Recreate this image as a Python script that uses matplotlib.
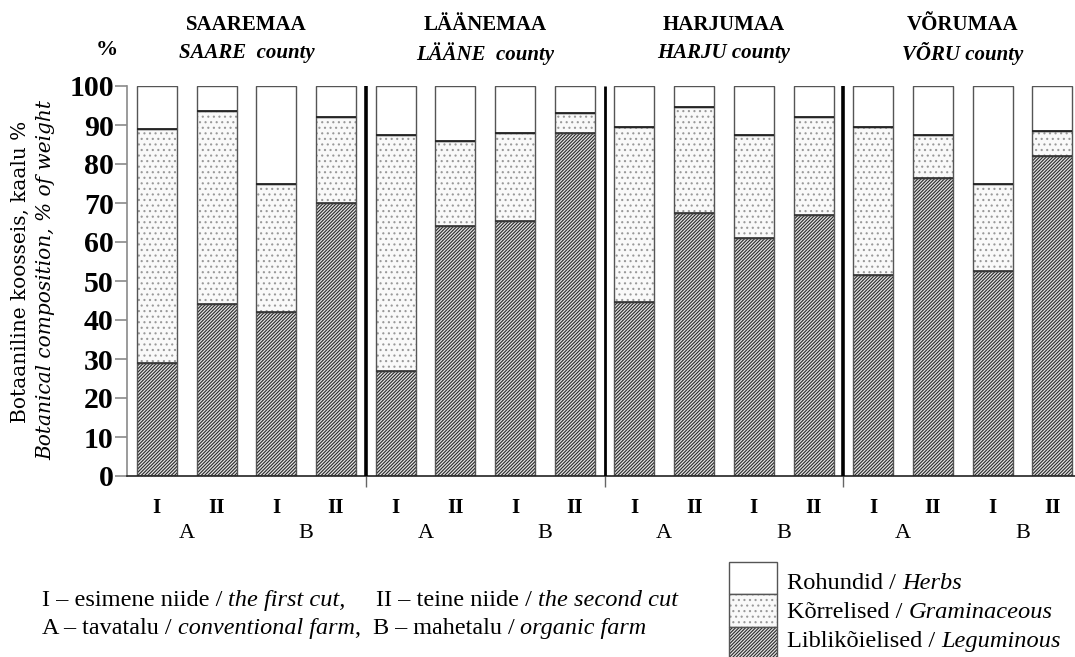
import matplotlib
matplotlib.use('Agg')
import matplotlib.pyplot as plt
import matplotlib.transforms as mtransforms
from matplotlib.patches import Rectangle
import numpy as np

# ---------------- data ----------------
counties = ['SAAREMAA', 'LÄÄNEMAA', 'HARJUMAA', 'VÕRUMAA']
counties_en = ['SAARE  county', 'LÄÄNE  county', 'HARJU county', 'VÕRU county']
cut_labels = ['I', 'II', 'I', 'II'] * 4
farm_labels = ['A', 'B'] * 4
leguminous = [29, 44, 42, 70, 27, 64, 65.5, 88, 44.5, 67.5, 61, 67, 51.5, 76.5, 52.5, 82]
graminaceous = [60, 49.5, 33, 22, 60.5, 22, 22.5, 5, 45, 27, 26.5, 25, 38, 11, 22.5, 6.5]
herbs = [11, 6.5, 25, 8, 12.5, 14, 12, 7, 10.5, 5.5, 12.5, 8, 10.5, 12.5, 25, 11.5]
yticks = [0, 10, 20, 30, 40, 50, 60, 70, 80, 90, 100]
legend_labels = [('Rohundid /', 'Herbs'),
                 ('Kõrrelised /', 'Graminaceous'),
                 ('Liblikõielised /', 'Leguminous')]
note_line1 = [('I – esimene niide /', 'normal', 1), ('the first cut,', 'italic', 5),
              ('II – teine niide /', 'normal', 1), ('the second cut', 'italic', 0)]
note_line2 = [('A – tavatalu /', 'normal', 1), ('conventional farm', 'italic', 0),
              (',', 'normal', 2), ('B – mahetalu /', 'normal', 1), ('organic farm', 'italic', 0)]

plt.rcParams['font.family'] = ['Liberation Serif', 'DejaVu Serif']
plt.rcParams['hatch.linewidth'] = 0.8

W, H = 1075, 657
fig = plt.figure(figsize=(W / 100, H / 100), dpi=100)
ax = fig.add_axes([127 / W, 1 - 476 / H, (W - 127) / W, 390 / H])
renderer = fig.canvas.get_renderer()

x = np.arange(len(leguminous))
leg = np.array(leguminous)
gra = np.array(graminaceous)
her = np.array(herbs)
bw = 0.67

LEG_FACE = '#e2e2e2'
LEG_HATCH = '#2a2a2a'
LEG_PAT = '//////////'
GRA_FACE = '#f9f9f9'
GRA_HATCH = '#999999'
GRA_PAT = '...'
EDGE = '#555555'

# leguminous
ax.bar(x, leg, width=bw, color=LEG_FACE, edgecolor=LEG_HATCH, hatch=LEG_PAT, linewidth=0)
ax.bar(x, leg, width=bw, fill=False, edgecolor=EDGE, linewidth=1.0)
# graminaceous
ax.bar(x, gra, bottom=leg, width=bw, color=GRA_FACE, edgecolor=GRA_HATCH, hatch=GRA_PAT, linewidth=0)
ax.bar(x, gra, bottom=leg, width=bw, fill=False, edgecolor=EDGE, linewidth=1.0)
# herbs
ax.bar(x, her, bottom=leg + gra, width=bw, color='white', edgecolor=EDGE, linewidth=1.0)
ax.hlines(leg, x - bw / 2, x + bw / 2, colors='#333333', linewidth=1.2)
ax.hlines(leg + gra, x - bw / 2, x + bw / 2, colors='#222222', linewidth=1.3)

# group separators
ngroups = len(counties)
seps = [4 * k - 0.5 for k in range(1, ngroups)]
ax.vlines(seps, 0, 100, colors='black', linewidth=[2.6, 2.0, 2.6], zorder=5)

ax.set_xlim(-0.5, 15.38)
ax.set_ylim(0, 100)

for s in ['top', 'right']:
    ax.spines[s].set_visible(False)
ax.spines['left'].set_color('#8a8a8a')
ax.spines['left'].set_linewidth(1.2)
ax.spines['bottom'].set_color('#222222')
ax.spines['bottom'].set_linewidth(1.2)

ax.set_yticks(yticks)
ax.set_yticklabels([str(v) for v in yticks], fontsize=21.5, fontweight='bold')
ax.tick_params(axis='y', length=9, width=1.2, color='#8a8a8a', pad=0.5)

ax.set_xticks(x)
ax.set_xticklabels(cut_labels, fontsize=15, fontweight='bold')
ax.tick_params(axis='x', which='major', length=0, pad=16)
ax.set_xticks(seps, minor=True)
ax.tick_params(axis='x', which='minor', length=8, width=1.0, color='#666666')

trans = mtransforms.blended_transform_factory(ax.transData, ax.transAxes)
for k, lab in enumerate(farm_labels):
    ax.text(2 * k + 0.5, -0.148, lab, transform=trans, ha='center', va='center', fontsize=16)

for k in range(ngroups):
    cx = 4 * k + 1.5
    ax.text(cx, 1.156, counties[k], transform=trans, ha='center', va='center',
            fontsize=15, fontweight='bold')
    ax.text(cx, 1.084, counties_en[k], transform=trans, ha='center', va='center',
            fontsize=15, fontweight='bold', fontstyle='italic')

fig.text(107 / W, 1 - 50 / H, '%', ha='center', va='center', fontsize=16, fontweight='bold')

# y-axis labels
fig.text(20 / W, 1 - 272 / H, 'Botaaniline koosseis, kaalu %', rotation=90,
         ha='center', va='center', fontsize=14.5, family='DejaVu Serif')
fig.text(46 / W, 1 - 280 / H, 'Botanical composition, % of weight', rotation=90,
         ha='center', va='center', fontsize=14.5, fontstyle='italic', family='DejaVu Serif')


def mixed(x_px, y_px, segments, size):
    cur = x_px
    space = 0.25 * size * 100 / 72
    for txt, style, gap in segments:
        t = fig.text(cur / W, 1 - y_px / H, txt, ha='left', va='baseline',
                     fontsize=size, fontstyle=style)
        bb = t.get_window_extent(renderer)
        cur += bb.width + gap * space


# footnotes (baseline positions)
mixed(42, 606, note_line1, 17.6)
mixed(42, 634, note_line2, 17.4)

# legend
lx, lw_ = 729 / W, 48 / W
rows = [(562, 594), (594, 627), (627, 662)]
styles = [dict(facecolor='white', hatch=None, hc=EDGE),
          dict(facecolor=GRA_FACE, hatch=GRA_PAT, hc=GRA_HATCH),
          dict(facecolor=LEG_FACE, hatch=LEG_PAT, hc=LEG_HATCH)]
for (t, b), st in zip(rows, styles):
    r = Rectangle((lx, 1 - b / H), lw_, (b - t) / H, transform=fig.transFigure,
                  facecolor=st['facecolor'], edgecolor=st['hc'], hatch=st['hatch'], linewidth=0)
    fig.patches.append(r)
    r2 = Rectangle((lx, 1 - b / H), lw_, (b - t) / H, transform=fig.transFigure,
                   fill=False, edgecolor=EDGE, linewidth=1.0)
    fig.patches.append(r2)

for (reg, ital), yy in zip(legend_labels, [589, 618, 647]):
    mixed(787, yy, [(reg, 'normal', 1), (ital, 'italic', 0)], 17.6)

fig.savefig('out.png', dpi=100)
